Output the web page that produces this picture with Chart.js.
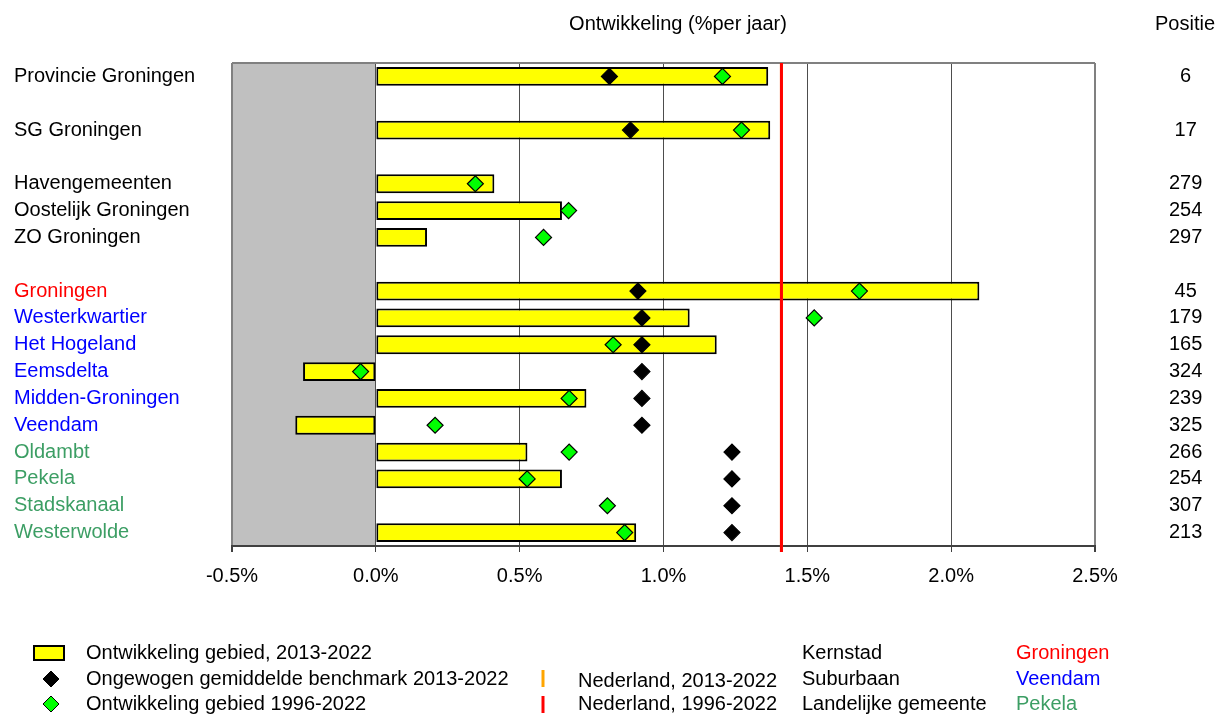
<!DOCTYPE html>
<html>
<head>
<meta charset="utf-8">
<script src="https://cdn.jsdelivr.net/npm/chart.js@4/dist/chart.umd.min.js"></script>
<style>
  html, body { margin: 0; padding: 0; background: #fff; }
  canvas { display: block; }
</style>
</head>
<body>
<canvas id="chart" width="1223" height="714"></canvas>
<script>
// rows of the chart, '' = empty spacer row
const areas = [
    'Provincie Groningen', '', 'SG Groningen', '',
    'Havengemeenten', 'Oostelijk Groningen', 'ZO Groningen', '',
    'Groningen', 'Westerkwartier', 'Het Hogeland', 'Eemsdelta',
    'Midden-Groningen', 'Veendam', 'Oldambt', 'Pekela', 'Stadskanaal', 'Westerwolde'
];
// label colour group per row: k = black, c = kernstad, s = suburbaan, l = landelijk
const areaGroups = ['k', 'k', 'k', 'k', 'k', 'k', 'k', 'k', 'c', 's', 's', 's', 's', 's', 'l', 'l', 'l', 'l'];
const positions = ['6', '', '17', '', '279', '254', '297', '', '45', '179', '165', '324', '239', '325', '266', '254', '307', '213'];

// % per year
const growth2013 = [1.364, null, 1.371, null, 0.412, 0.647, 0.178, null, 2.098, 1.091, 1.185, -0.253, 0.732, -0.280, 0.527, 0.647, null, 0.905];
const benchmark2013 = [0.812, null, 0.885, null, null, null, null, null, 0.911, 0.925, 0.925, 0.925, 0.925, 0.925, 1.238, 1.238, 1.238, 1.238];
const growth1996 = [1.205, null, 1.271, null, 0.346, 0.670, 0.583, null, 1.681, 1.524, 0.825, -0.053, 0.672, 0.206, 0.672, 0.526, 0.805, 0.865];

const nederland2013 = 1.41;
const nederland1996 = 1.41;

const xMin = -0.5;
const xMax = 2.5;

const groupColors = { k: '#000000', c: '#ff0000', s: '#0000ff', l: '#3c9e64' };
const FONT = 'Arial, "Liberation Sans", sans-serif';

function diamond(ctx, x, y, r, fill, stroke) {
    ctx.beginPath();
    ctx.moveTo(x - r, y);
    ctx.lineTo(x, y - r);
    ctx.lineTo(x + r, y);
    ctx.lineTo(x, y + r);
    ctx.closePath();
    ctx.fillStyle = fill;
    ctx.fill();
    ctx.strokeStyle = stroke;
    ctx.lineWidth = 1;
    ctx.stroke();
}

// no extra room above/below the category axes
function fixVertical(width) {
    return scale => {
        scale.width = width;
        scale.paddingTop = 0;
        scale.paddingBottom = 0;
    };
}

// grey negative zone, frame, reference lines, titles and legend
const decor = {
    id: 'decor',
    beforeDraw(chart) {
        const { ctx, chartArea: a, scales: { x } } = chart;
        ctx.save();
        ctx.fillStyle = '#c0c0c0';
        ctx.fillRect(a.left, a.top, x.getPixelForValue(0) - a.left, a.bottom - a.top);
        ctx.restore();
    },
    beforeDatasetsDraw(chart) {
        const { ctx, chartArea: a } = chart;
        ctx.save();
        // top frame
        ctx.strokeStyle = '#808080';
        ctx.lineWidth = 2;
        ctx.beginPath();
        ctx.moveTo(a.left, a.top);
        ctx.lineTo(a.right, a.top);
        ctx.stroke();
        ctx.restore();
    },
    afterDatasetsDraw(chart) {
        const { ctx, chartArea: a, scales: { x } } = chart;
        ctx.save();
        ctx.lineWidth = 3;
        ctx.strokeStyle = '#ffa500';
        let px = x.getPixelForValue(nederland2013);
        ctx.beginPath();
        ctx.moveTo(px, a.top);
        ctx.lineTo(px, a.bottom + 6);
        ctx.stroke();
        ctx.strokeStyle = '#ff0000';
        px = x.getPixelForValue(nederland1996);
        ctx.beginPath();
        ctx.moveTo(px, a.top);
        ctx.lineTo(px, a.bottom + 6);
        ctx.stroke();
        ctx.restore();
    },
    afterDraw(chart) {
        const ctx = chart.ctx;
        ctx.save();
        ctx.font = '20px ' + FONT;
        ctx.textBaseline = 'middle';
        ctx.fillStyle = '#000';
        ctx.textAlign = 'center';
        ctx.fillText('Ontwikkeling (%per jaar)', 678, 24);
        ctx.fillText('Positie', 1185, 24);

        // legend
        ctx.textAlign = 'left';
        ctx.fillStyle = '#ffff00';
        ctx.fillRect(34, 646, 30, 14);
        ctx.strokeStyle = '#000';
        ctx.lineWidth = 2;
        ctx.strokeRect(34, 646, 30, 14);
        diamond(ctx, 51, 679, 8, '#000000', '#000000');
        diamond(ctx, 51, 704, 8, '#00ff00', '#000000');

        ctx.fillStyle = '#000';
        ctx.fillText('Ontwikkeling gebied, 2013-2022', 86, 653);
        ctx.fillText('Ongewogen gemiddelde benchmark 2013-2022', 86, 679);
        ctx.fillText('Ontwikkeling gebied 1996-2022', 86, 704);

        ctx.lineWidth = 3;
        ctx.strokeStyle = '#ffa500';
        ctx.beginPath();
        ctx.moveTo(543, 670);
        ctx.lineTo(543, 687);
        ctx.stroke();
        ctx.strokeStyle = '#ff0000';
        ctx.beginPath();
        ctx.moveTo(543, 696);
        ctx.lineTo(543, 713);
        ctx.stroke();

        ctx.fillText('Nederland, 2013-2022', 578, 681);
        ctx.fillText('Nederland, 1996-2022', 578, 704);

        ctx.fillText('Kernstad', 802, 653);
        ctx.fillText('Suburbaan', 802, 679);
        ctx.fillText('Landelijke gemeente', 802, 704);

        ctx.fillStyle = groupColors.c;
        ctx.fillText('Groningen', 1016, 653);
        ctx.fillStyle = groupColors.s;
        ctx.fillText('Veendam', 1016, 679);
        ctx.fillStyle = groupColors.l;
        ctx.fillText('Pekela', 1016, 704);
        ctx.restore();
    }
};

new Chart(document.getElementById('chart'), {
    type: 'bar',
    data: {
        labels: areas,
        datasets: [
            {
                label: 'Ontwikkeling gebied 1996-2022',
                type: 'line',
                data: growth1996,
                showLine: false,
                pointStyle: 'rectRot',
                pointRadius: 8,
                pointHoverRadius: 8,
                pointBackgroundColor: '#00ff00',
                pointBorderColor: '#000000',
                pointBorderWidth: 1.2,
                order: 1
            },
            {
                label: 'Ongewogen gemiddelde benchmark 2013-2022',
                type: 'line',
                data: benchmark2013,
                showLine: false,
                pointStyle: 'rectRot',
                pointRadius: 8,
                pointHoverRadius: 8,
                pointBackgroundColor: '#000000',
                pointBorderColor: '#000000',
                pointBorderWidth: 1.2,
                order: 2
            },
            {
                label: 'Ontwikkeling gebied, 2013-2022',
                data: growth2013,
                backgroundColor: '#ffff00',
                borderColor: '#000000',
                borderWidth: 2,
                borderSkipped: false,
                barPercentage: 0.7,
                categoryPercentage: 1,
                order: 3
            }
        ]
    },
    options: {
        indexAxis: 'y',
        responsive: false,
        animation: false,
        layout: { padding: { left: 14, top: 63, right: 0, bottom: 0 } },
        plugins: {
            legend: { display: false },
            tooltip: { enabled: false }
        },
        scales: {
            x: {
                type: 'linear',
                min: xMin,
                max: xMax,
                afterFit(scale) { scale.height = 168; },
                ticks: {
                    stepSize: 0.5,
                    padding: 12,
                    color: '#000',
                    font: { family: FONT, size: 20 },
                    callback: v => v.toFixed(1) + '%'
                },
                grid: {
                    color: c => (c.tick && (c.tick.value === xMin || c.tick.value === xMax)) ? '#808080' : '#4d4d4d',
                    lineWidth: c => (c.tick && (c.tick.value === xMin || c.tick.value === xMax)) ? 2 : 1,
                    tickLength: 6,
                    tickColor: '#404040'
                },
                border: { color: '#404040', width: 2 }
            },
            y: {
                type: 'category',
                position: 'left',
                offset: true,
                afterFit: fixVertical(218),
                grid: { display: false, drawTicks: false },
                border: { display: false },
                ticks: {
                    autoSkip: false,
                    crossAlign: 'far',
                    color: c => groupColors[areaGroups[c.index]],
                    font: { family: FONT, size: 20 }
                }
            },
            y2: {
                type: 'category',
                position: 'right',
                labels: positions,
                offset: true,
                afterFit: fixVertical(128),
                grid: { display: false, drawTicks: false },
                border: { display: false },
                ticks: {
                    autoSkip: false,
                    crossAlign: 'center',
                    padding: 74,
                    color: '#000',
                    font: { family: FONT, size: 20 }
                }
            }
        }
    },
    plugins: [decor]
});
</script>
</body>
</html>
